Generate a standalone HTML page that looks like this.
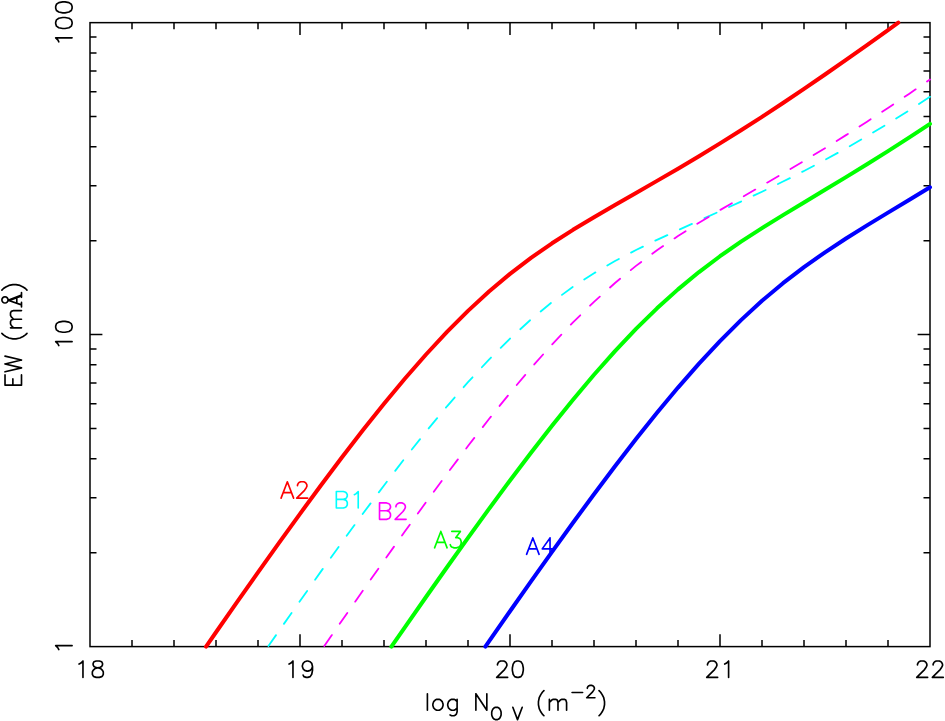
<!DOCTYPE html>
<html lang="en"><head><meta charset="utf-8"><title>EW vs log N</title>
<style>html,body{margin:0;padding:0;background:#fff;}body{width:945px;height:721px;overflow:hidden;font-family:"Liberation Sans",sans-serif;}svg{display:block;}</style></head>
<body>
<svg width="945" height="721" viewBox="0 0 945 721">
<rect x="0" y="0" width="945" height="721" fill="#fff"/>
<g fill="none" stroke="#000" stroke-width="1.5" stroke-linecap="butt">
<path d="M132 646.6V640.1M132 22.65V29.15M174 646.6V640.1M174 22.65V29.15M216 646.6V640.1M216 22.65V29.15M258 646.6V640.1M258 22.65V29.15M300 646.6V634.2M300 22.65V35.05M342 646.6V640.1M342 22.65V29.15M384 646.6V640.1M384 22.65V29.15M426 646.6V640.1M426 22.65V29.15M468 646.6V640.1M468 22.65V29.15M510 646.6V634.2M510 22.65V35.05M552 646.6V640.1M552 22.65V29.15M594 646.6V640.1M594 22.65V29.15M636 646.6V640.1M636 22.65V29.15M678 646.6V640.1M678 22.65V29.15M720 646.6V634.2M720 22.65V35.05M762 646.6V640.1M762 22.65V29.15M804 646.6V640.1M804 22.65V29.15M846 646.6V640.1M846 22.65V29.15M888 646.6V640.1M888 22.65V29.15M90 552.69H96.5M930 552.69H923.5M90 497.75H96.5M930 497.75H923.5M90 458.77H96.5M930 458.77H923.5M90 428.54H96.5M930 428.54H923.5M90 403.84H96.5M930 403.84H923.5M90 382.95H96.5M930 382.95H923.5M90 364.86H96.5M930 364.86H923.5M90 348.9H96.5M930 348.9H923.5M90 334.62H102.4M930 334.62H917.6M90 240.71H96.5M930 240.71H923.5M90 185.78H96.5M930 185.78H923.5M90 146.8H96.5M930 146.8H923.5M90 116.56H96.5M930 116.56H923.5M90 91.86H96.5M930 91.86H923.5M90 70.98H96.5M930 70.98H923.5M90 52.88H96.5M930 52.88H923.5M90 36.93H96.5M930 36.93H923.5"/>
<rect x="90" y="22.65" width="840" height="623.95" stroke-linejoin="miter"/>
</g>
<g fill="none" stroke-linecap="round" stroke-linejoin="round">
<path d="M79.05 664.11L80.62 663.32L82.96 660.98L82.96 677.4M96.26 660.98L93.91 661.76L93.13 663.32L93.13 664.89L93.91 666.45L95.47 667.23L98.6 668.02L100.95 668.8L102.51 670.36L103.29 671.93L103.29 674.27L102.51 675.84L101.73 676.62L99.38 677.4L96.26 677.4L93.91 676.62L93.13 675.84L92.35 674.27L92.35 671.93L93.13 670.36L94.69 668.8L97.04 668.02L100.17 667.23L101.73 666.45L102.51 664.89L102.51 663.32L101.73 661.76L99.38 660.98L96.26 660.98" stroke="#000" stroke-width="1.65"/>
<path d="M289.05 664.11L290.62 663.32L292.96 660.98L292.96 677.4M312.51 666.45L311.73 668.8L310.17 670.36L307.82 671.14L307.04 671.14L304.69 670.36L303.13 668.8L302.35 666.45L302.35 665.67L303.13 663.32L304.69 661.76L307.04 660.98L307.82 660.98L310.17 661.76L311.73 663.32L312.51 666.45L312.51 670.36L311.73 674.27L310.17 676.62L307.82 677.4L306.26 677.4L303.91 676.62L303.13 675.05" stroke="#000" stroke-width="1.65"/>
<path d="M497.49 664.89L497.49 664.11L498.27 662.54L499.05 661.76L500.62 660.98L503.74 660.98L505.31 661.76L506.09 662.54L506.87 664.11L506.87 665.67L506.09 667.23L504.53 669.58L496.71 677.4L507.65 677.4M517.04 660.98L514.69 661.76L513.13 664.11L512.35 668.02L512.35 670.36L513.13 674.27L514.69 676.62L517.04 677.4L518.6 677.4L520.95 676.62L522.51 674.27L523.29 670.36L523.29 668.02L522.51 664.11L520.95 661.76L518.6 660.98L517.04 660.98" stroke="#000" stroke-width="1.65"/>
<path d="M707.49 664.89L707.49 664.11L708.27 662.54L709.05 661.76L710.62 660.98L713.74 660.98L715.31 661.76L716.09 662.54L716.87 664.11L716.87 665.67L716.09 667.23L714.53 669.58L706.71 677.4L717.65 677.4M724.69 664.11L726.26 663.32L728.6 660.98L728.6 677.4" stroke="#000" stroke-width="1.65"/>
<path d="M917.49 664.89L917.49 664.11L918.27 662.54L919.05 661.76L920.62 660.98L923.74 660.98L925.31 661.76L926.09 662.54L926.87 664.11L926.87 665.67L926.09 667.23L924.53 669.58L916.71 677.4L927.65 677.4M933.13 664.89L933.13 664.11L933.91 662.54L934.69 661.76L936.26 660.98L939.38 660.98L940.95 661.76L941.73 662.54L942.51 664.11L942.51 665.67L941.73 667.23L940.17 669.58L932.35 677.4L943.29 677.4" stroke="#000" stroke-width="1.65"/>
<path transform="translate(72.1 646.45) rotate(-90)" d="M-3.13 -13.29L-1.56 -14.08L0.78 -16.42L0.78 0" stroke="#000" stroke-width="1.65"/>
<path transform="translate(72.1 334.62) rotate(-90)" d="M-10.95 -13.29L-9.38 -14.08L-7.04 -16.42L-7.04 0M7.04 -16.42L4.69 -15.64L3.13 -13.29L2.35 -9.38L2.35 -7.04L3.13 -3.13L4.69 -0.78L7.04 0L8.6 0L10.95 -0.78L12.51 -3.13L13.29 -7.04L13.29 -9.38L12.51 -13.29L10.95 -15.64L8.6 -16.42L7.04 -16.42" stroke="#000" stroke-width="1.65"/>
<path transform="translate(72.1 23) rotate(-90)" d="M-18.77 -13.29L-17.2 -14.08L-14.86 -16.42L-14.86 0M-0.78 -16.42L-3.13 -15.64L-4.69 -13.29L-5.47 -9.38L-5.47 -7.04L-4.69 -3.13L-3.13 -0.78L-0.78 0L0.78 0L3.13 -0.78L4.69 -3.13L5.47 -7.04L5.47 -9.38L4.69 -13.29L3.13 -15.64L0.78 -16.42L-0.78 -16.42M14.86 -16.42L12.51 -15.64L10.95 -13.29L10.17 -9.38L10.17 -7.04L10.95 -3.13L12.51 -0.78L14.86 0L16.42 0L18.77 -0.78L20.33 -3.13L21.11 -7.04L21.11 -9.38L20.33 -13.29L18.77 -15.64L16.42 -16.42L14.86 -16.42" stroke="#000" stroke-width="1.65"/>
<path d="M427.4 693.83L427.4 710.25M436.78 699.3L435.22 700.08L433.65 701.65L432.87 703.99L432.87 705.56L433.65 707.9L435.22 709.47L436.78 710.25L439.13 710.25L440.69 709.47L442.26 707.9L443.04 705.56L443.04 703.99L442.26 701.65L440.69 700.08L439.13 699.3L436.78 699.3M457.11 699.3L457.11 711.81L456.33 714.16L455.55 714.94L453.99 715.72L451.64 715.72L450.08 714.94M457.11 701.65L455.55 700.08L453.99 699.3L451.64 699.3L450.08 700.08L448.51 701.65L447.73 703.99L447.73 705.56L448.51 707.9L450.08 709.47L451.64 710.25L453.99 710.25L455.55 709.47L457.11 707.9M475.88 693.83L475.88 710.25M475.88 693.83L486.83 710.25M486.83 693.83L486.83 710.25M495.24 707.32L494.06 707.9L492.89 709.08L492.3 710.25L491.72 712.01L491.72 714.94L492.3 716.7L492.89 717.87L494.06 719.05L495.24 719.63L497.58 719.63L498.76 719.05L499.93 717.87L500.51 716.7L501.1 714.94L501.1 712.01L500.51 710.25L499.93 709.08L498.76 707.9L497.58 707.32L495.24 707.32M512.83 707.32L517.52 719.63M522.22 707.32L517.52 719.63M543.92 690.7L542.35 692.26L540.79 694.61L539.22 697.74L538.44 701.65L538.44 704.78L539.22 708.69L540.79 711.81L542.35 714.16L543.92 715.72M549.39 699.3L549.39 710.25M549.39 702.43L551.74 700.08L553.3 699.3L555.65 699.3L557.21 700.08L557.99 702.43L557.99 710.25M557.99 702.43L560.34 700.08L561.9 699.3L564.25 699.3L565.81 700.08L566.59 702.43L566.59 710.25M572.07 692.46L582.62 692.46M587.32 688.35L587.32 687.77L587.9 686.59L588.49 686.01L589.66 685.42L592.01 685.42L593.18 686.01L593.77 686.59L594.36 687.77L594.36 688.94L593.77 690.11L592.6 691.87L586.73 697.74L594.94 697.74M599.05 690.7L600.61 692.26L602.17 694.61L603.74 697.74L604.52 701.65L604.52 704.78L603.74 708.69L602.17 711.81L600.61 714.16L599.05 715.72" stroke="#000" stroke-width="1.65"/>
<path transform="translate(21.5 388.3) rotate(-90)" d="M3.14 -16.48L3.14 0M3.14 -16.48L13.35 -16.48M3.14 -8.63L9.42 -8.63M3.14 0L13.35 0M16.48 -16.48L20.41 0M24.34 -16.48L20.41 0M24.34 -16.48L28.26 0M32.19 -16.48L28.26 0M54.95 -19.62L53.38 -18.05L51.81 -15.7L50.24 -12.56L49.46 -8.63L49.46 -5.5L50.24 -1.57L51.81 1.57L53.38 3.93L54.95 5.5M60.45 -10.99L60.45 0M60.45 -7.85L62.8 -10.21L64.37 -10.99L66.73 -10.99L68.3 -10.21L69.08 -7.85L69.08 0M69.08 -7.85L71.44 -10.21L73.01 -10.99L75.36 -10.99L76.93 -10.21L77.72 -7.85L77.72 0M88.08 -13.42L83.45 0M88.08 -13.42L93.26 0M88.08 -11.46L92.32 0M84.94 -4.71L91.22 -4.71M81.4 0L85.88 0M90.98 0L95.69 0M91.49 -16.52L91.26 -17.71L90.58 -18.72L89.58 -19.39L88.39 -19.62L87.2 -19.39L86.2 -18.72L85.53 -17.71L85.29 -16.52L85.53 -15.34L86.2 -14.33L87.2 -13.66L88.39 -13.42L89.58 -13.66L90.58 -14.33L91.26 -15.34L91.49 -16.52M98.2 -19.62L99.77 -18.05L101.34 -15.7L102.91 -12.56L103.7 -8.63L103.7 -5.5L102.91 -1.57L101.34 1.57L99.77 3.93L98.2 5.5" stroke="#000" stroke-width="1.65"/>
<path d="M287.34 481.73L281.08 498.15M287.34 481.73L293.59 498.15M283.43 492.68L291.25 492.68M297.5 485.64L297.5 484.86L298.29 483.29L299.07 482.51L300.63 481.73L303.76 481.73L305.32 482.51L306.11 483.29L306.89 484.86L306.89 486.42L306.11 487.98L304.54 490.33L296.72 498.15L307.67 498.15" stroke="#ff0000" stroke-width="1.65"/>
<path d="M336.33 491.53L336.33 507.95M336.33 491.53L343.37 491.53L345.71 492.31L346.49 493.09L347.28 494.66L347.28 496.22L346.49 497.78L345.71 498.57L343.37 499.35M336.33 499.35L343.37 499.35L345.71 500.13L346.49 500.91L347.28 502.48L347.28 504.82L346.49 506.39L345.71 507.17L343.37 507.95L336.33 507.95M354.31 494.66L355.88 493.87L358.22 491.53L358.22 507.95" stroke="#00ffff" stroke-width="1.65"/>
<path d="M379.53 502.93L379.53 519.35M379.53 502.93L386.57 502.93L388.91 503.71L389.69 504.49L390.48 506.06L390.48 507.62L389.69 509.18L388.91 509.97L386.57 510.75M379.53 510.75L386.57 510.75L388.91 511.53L389.69 512.31L390.48 513.88L390.48 516.22L389.69 517.79L388.91 518.57L386.57 519.35L379.53 519.35M395.95 506.84L395.95 506.06L396.73 504.49L397.51 503.71L399.08 502.93L402.21 502.93L403.77 503.71L404.55 504.49L405.33 506.06L405.33 507.62L404.55 509.18L402.99 511.53L395.17 519.35L406.12 519.35" stroke="#ff00ff" stroke-width="1.65"/>
<path d="M440.84 531.43L434.58 547.85M440.84 531.43L447.09 547.85M436.93 542.38L444.75 542.38M451.79 531.43L460.39 531.43L455.7 537.68L458.04 537.68L459.61 538.47L460.39 539.25L461.17 541.59L461.17 543.16L460.39 545.5L458.82 547.07L456.48 547.85L454.13 547.85L451.79 547.07L451 546.29L450.22 544.72" stroke="#00ff00" stroke-width="1.65"/>
<path d="M532.84 537.93L526.58 554.35M532.84 537.93L539.09 554.35M528.93 548.88L536.75 548.88M550.04 537.93L542.22 548.88L553.95 548.88M550.04 537.93L550.04 554.35" stroke="#0000ff" stroke-width="1.65"/>
</g>
<g fill="none" stroke-linecap="round" stroke-linejoin="round">
<path d="M206.04 646.6 L216 632.25 L237 602.18 L258 572.36 L279 542.88 L300 513.81 L321 485.24 L342 457.28 L363 430.07 L384 403.75 L405 378.5 L426 354.49 L447 331.89 L468 310.86 L489 291.51 L510 273.87 L531 257.85 L552 243.27 L573 229.83 L594 217.17 L615 204.96 L636 192.93 L657 180.87 L678 168.65 L699 156.18 L720 143.4 L741 130.28 L762 116.81 L783 103 L804 88.88 L825 74.48 L846 59.85 L867 45.03 L888 30.05 L898.3 22.65" stroke="#ff0000" stroke-width="4"/>
<path d="M391.4 646.6 L405 627.02 L426 597 L447 567.25 L468 537.86 L489 508.91 L510 480.49 L531 452.72 L552 425.74 L573 399.71 L594 374.78 L615 351.14 L636 328.94 L657 308.32 L678 289.36 L699 272.04 L720 256.23 L741 241.69 L762 228.09 L783 215.11 L804 202.44 L825 189.83 L846 177.14 L867 164.25 L888 151.1 L909 137.65 L930 123.91" stroke="#00ff00" stroke-width="4"/>
<path d="M485.37 646.6 L489 641.36 L510 611.24 L531 581.39 L552 551.88 L573 522.79 L594 494.21 L615 466.26 L636 439.06 L657 412.78 L678 387.58 L699 363.63 L720 341.09 L741 320.13 L762 300.81 L783 283.16 L804 267.07 L825 252.3 L846 238.48 L867 225.36 L888 212.61 L909 199.97 L930 187.28" stroke="#0000ff" stroke-width="4"/>
<path d="M268.03 646.6 L279 630.87 L300 600.96 L321 571.37 L342 542.18 L363 513.49 L384 485.42 L405 458.08 L426 431.65 L447 406.29 L468 382.2 L489 359.57 L510 338.61 L531 319.44 L552 302.18 L573 286.8 L594 273.17 L615 261.03 L636 250.05 L657 239.86 L678 230.15 L699 220.64 L720 211.17 L741 201.57 L762 191.73 L783 181.55 L804 170.96 L825 159.9 L846 148.32 L867 136.22 L888 123.58 L909 110.45 L930 96.85" stroke="#00ffff" stroke-width="1.8" stroke-dasharray="13.3 13.73" stroke-dashoffset="-0.7"/>
<path d="M323.89 646.6 L342 620.49 L363 590.43 L384 560.65 L405 531.23 L426 502.25 L447 473.81 L468 446.03 L489 419.04 L510 393.01 L531 368.1 L552 344.49 L573 322.36 L594 301.83 L615 283 L636 265.85 L657 250.26 L678 235.99 L699 222.73 L720 210.12 L741 197.84 L762 185.66 L783 173.39 L804 160.92 L825 148.18 L846 135.12 L867 121.72 L888 107.98 L909 93.92 L930 79.57" stroke="#ff00ff" stroke-width="1.8" stroke-dasharray="13.3 13.73" stroke-dashoffset="-0.7"/>
</g>
</svg>
</body></html>
